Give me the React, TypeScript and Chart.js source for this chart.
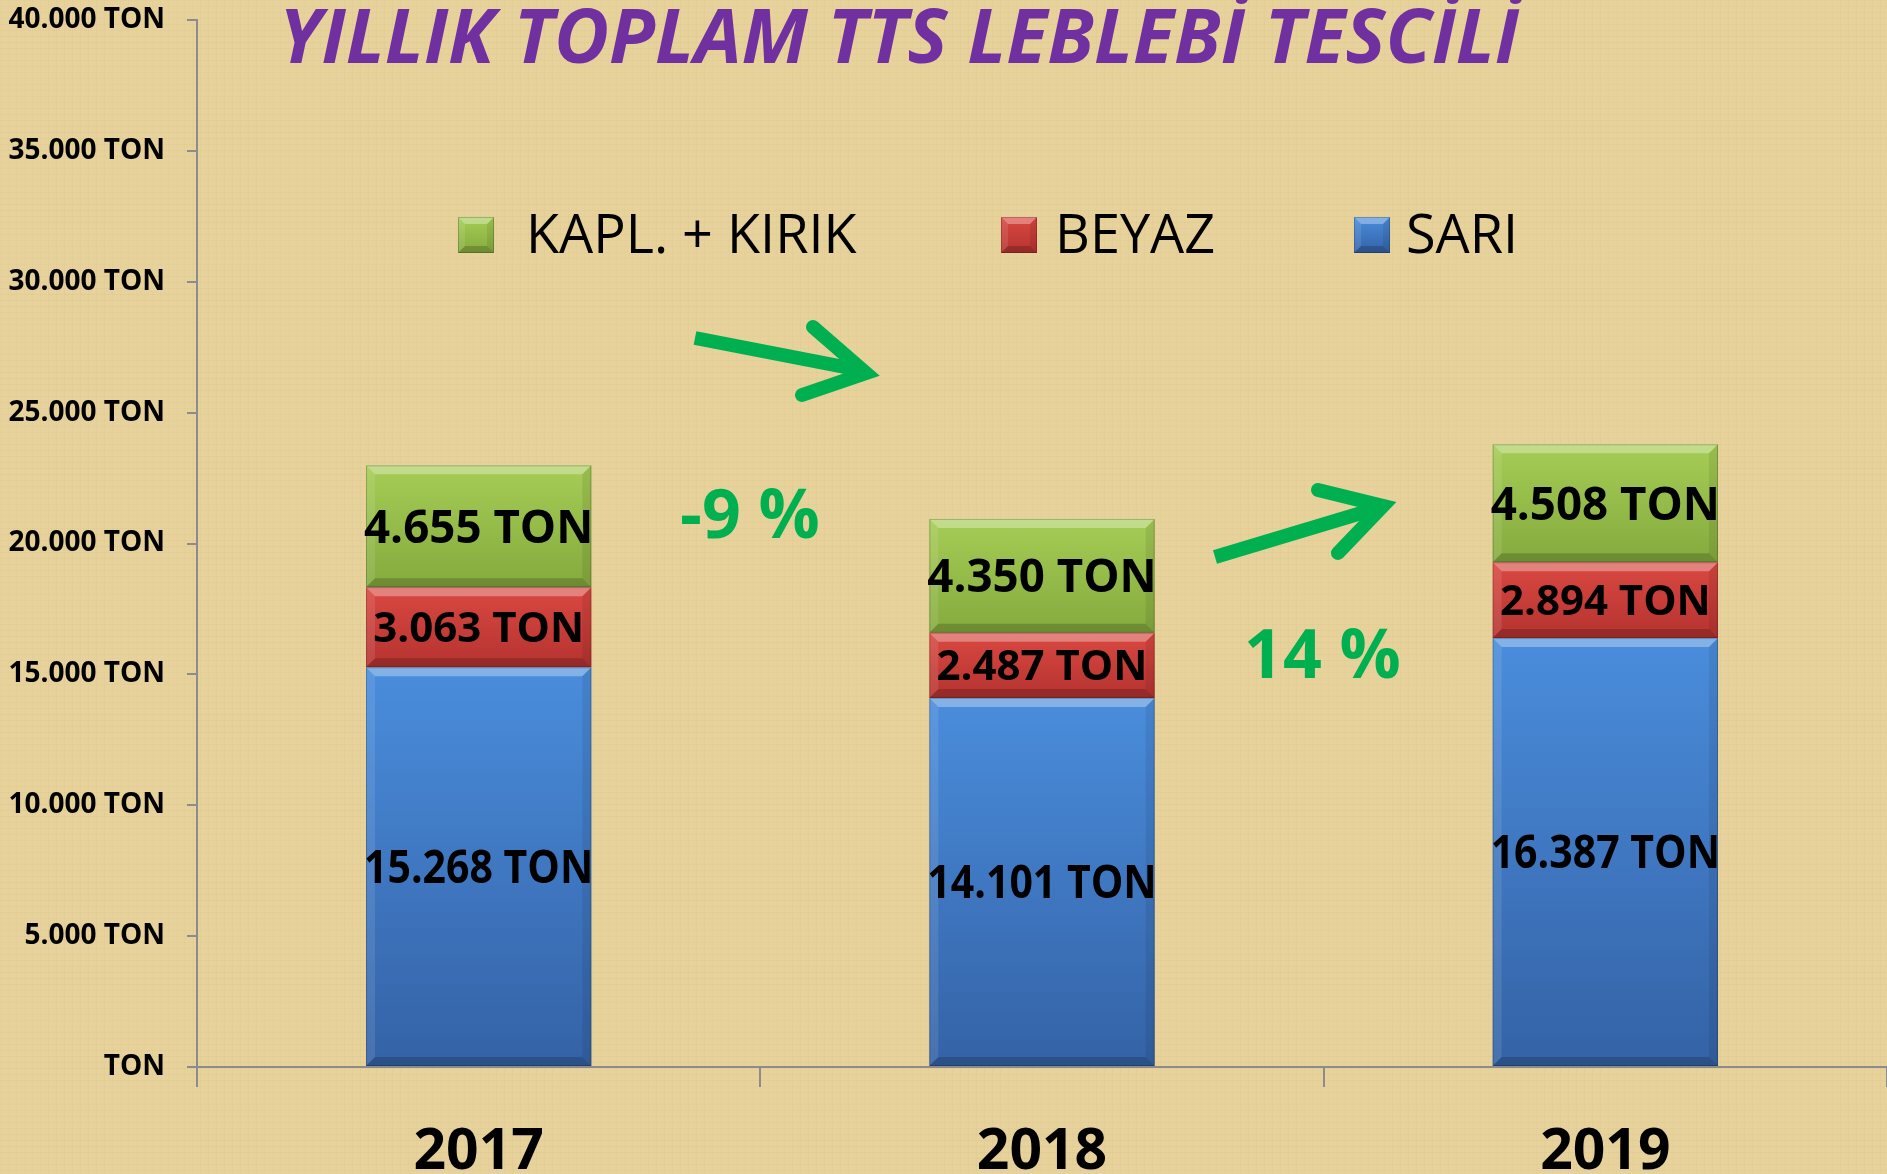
import React, { useEffect, useRef } from "react";
import { Chart, registerables } from "chart.js";

Chart.register(...registerables);

// ---------- data ----------
const years = ["2017", "2018", "2019"];
const sari = [15268, 14101, 16387];
const beyaz = [3063, 2487, 2894];
const kaplKirik = [4655, 4350, 4508];
const seriesNames = ["SARI", "BEYAZ", "KAPL. + KIRIK"];
const yMin = 0;
const yMax = 40000;
const yStep = 5000;
const unit = "TON";
const titleText = "YILLIK TOPLAM TTS LEBLEBİ TESCİLİ";
const changeLabels = ["-9 %", "14 %"];

// ---------- styles ----------
const BG = "#E7D29C";
const AXIS = "#8C8C8C";
const FONT = "'Open Sans', 'DejaVu Sans', sans-serif";
const seriesColors = [
  { top: "#4A8DDC", bottom: "#3462A6", flat: "#3D78C6" },
  { top: "#DA4841", bottom: "#B53330", flat: "#C83C39" },
  { top: "#A5CD55", bottom: "#85AA3E", flat: "#95BE49" },
];
const labelFontSizes = [46, 42, 46];
const GREEN = "#00B050";
const PURPLE = "#7030A0";

function fmt(v: number): string {
  return Math.round(v)
    .toString()
    .replace(/\B(?=(\d{3})+(?!\d))/g, ".");
}

function tonLabel(v: number): string {
  return v === 0 ? unit : fmt(v) + " " + unit;
}

function makeBg(dsIndex: number) {
  return (c: any) => {
    const chart = c.chart;
    const ys = chart.scales && chart.scales.y;
    const col = seriesColors[dsIndex];
    if (c.type !== "data" || !ys) return col.flat;
    const j = c.dataIndex;
    let base = 0;
    for (let k = 0; k < dsIndex; k++) base += chart.data.datasets[k].data[j] as number;
    const v = chart.data.datasets[dsIndex].data[j] as number;
    const y0 = ys.getPixelForValue(base + v);
    const y1 = ys.getPixelForValue(base);
    if (!isFinite(y0) || !isFinite(y1) || y0 === y1) return col.flat;
    const g = chart.ctx.createLinearGradient(0, y0, 0, y1);
    g.addColorStop(0, col.top);
    g.addColorStop(1, col.bottom);
    return g;
  };
}

function poly(ctx: CanvasRenderingContext2D, pts: number[][], fill: string) {
  ctx.beginPath();
  ctx.moveTo(pts[0][0], pts[0][1]);
  for (let i = 1; i < pts.length; i++) ctx.lineTo(pts[i][0], pts[i][1]);
  ctx.closePath();
  ctx.fillStyle = fill;
  ctx.fill();
}

function drawBevel(ctx: CanvasRenderingContext2D, l: number, t: number, r: number, b: number, s: number) {
  ctx.save();
  poly(ctx, [[l, t], [r, t], [r - s, t + s], [l + s, t + s]], "rgba(255,255,255,0.32)");
  poly(ctx, [[l, t], [l + s, t + s], [l + s, b - s], [l, b]], "rgba(255,255,255,0.10)");
  poly(ctx, [[r, t], [r, b], [r - s, b - s], [r - s, t + s]], "rgba(0,0,0,0.08)");
  poly(ctx, [[l, b], [r, b], [r - s, b - s], [l + s, b - s]], "rgba(0,0,0,0.18)");
  ctx.strokeStyle = "rgba(0,0,0,0.20)";
  ctx.lineWidth = 1;
  ctx.strokeRect(l + 0.5, t + 0.5, r - l - 1, b - t - 1);
  ctx.restore();
}

// soft papyrus-like background (solid base with faint woven lines)
const backgroundPlugin = {
  id: "bgFill",
  beforeDraw(chart: any) {
    const ctx = chart.ctx as CanvasRenderingContext2D;
    const W = chart.width;
    const H = chart.height;
    ctx.save();
    ctx.fillStyle = BG;
    ctx.fillRect(0, 0, W, H);
    ctx.lineWidth = 1;
    for (let y = 0; y < H; y += 6) {
      const a = 0.02 + 0.035 * Math.pow(Math.sin(y * 0.037), 2);
      ctx.strokeStyle = `rgba(160,120,50,${a.toFixed(3)})`;
      ctx.beginPath();
      ctx.moveTo(0, y + 0.5);
      ctx.lineTo(W, y + 0.5);
      ctx.stroke();
    }
    for (let x = 0; x < W; x += 8) {
      const a = 0.015 + 0.03 * Math.pow(Math.sin(x * 0.021), 2);
      ctx.strokeStyle = `rgba(160,120,50,${a.toFixed(3)})`;
      ctx.beginPath();
      ctx.moveTo(x + 0.5, 0);
      ctx.lineTo(x + 0.5, H);
      ctx.stroke();
    }
    ctx.restore();
  },
};

const bevelAndLabelsPlugin = {
  id: "bevelLabels",
  afterDatasetsDraw(chart: any) {
    const ctx = chart.ctx as CanvasRenderingContext2D;
    chart.data.datasets.forEach((ds: any, i: number) => {
      const meta = chart.getDatasetMeta(i);
      meta.data.forEach((el: any) => {
        const p = el.getProps(["x", "y", "base", "width"], true);
        const l = p.x - p.width / 2;
        const r = p.x + p.width / 2;
        const t = Math.min(p.y, p.base);
        const b = Math.max(p.y, p.base);
        drawBevel(ctx, l, t, r, b, 9);
      });
    });
    ctx.save();
    ctx.fillStyle = "#000000";
    ctx.textAlign = "center";
    ctx.textBaseline = "alphabetic";
    chart.data.datasets.forEach((ds: any, i: number) => {
      const fs = labelFontSizes[i];
      ctx.font = `bold ${fs}px ${FONT}`;
      const meta = chart.getDatasetMeta(i);
      meta.data.forEach((el: any, j: number) => {
        const p = el.getProps(["x", "y", "base", "width"], true);
        const cy = (p.y + p.base) / 2;
        ctx.fillText(tonLabel(ds.data[j]), p.x, cy + fs * 0.357, p.width + 4);
      });
    });
    ctx.restore();
  },
};

function arrow(ctx: CanvasRenderingContext2D, shaft: number[][], head: number[][]) {
  ctx.save();
  ctx.strokeStyle = GREEN;
  ctx.lineWidth = 14;
  ctx.lineCap = "butt";
  ctx.beginPath();
  ctx.moveTo(shaft[0][0], shaft[0][1]);
  ctx.lineTo(shaft[1][0], shaft[1][1]);
  ctx.stroke();
  ctx.lineCap = "round";
  ctx.lineJoin = "miter";
  ctx.miterLimit = 10;
  ctx.beginPath();
  ctx.moveTo(head[0][0], head[0][1]);
  ctx.lineTo(head[1][0], head[1][1]);
  ctx.lineTo(head[2][0], head[2][1]);
  ctx.stroke();
  ctx.restore();
}

const overlayPlugin = {
  id: "overlay",
  afterDraw(chart: any) {
    const ctx = chart.ctx as CanvasRenderingContext2D;
    // title
    ctx.save();
    ctx.font = `italic bold 75px ${FONT}`;
    ctx.fillStyle = PURPLE;
    ctx.textAlign = "left";
    ctx.textBaseline = "alphabetic";
    const w = ctx.measureText(titleText).width;
    ctx.translate(279, 63);
    ctx.scale(1240 / w, 1);
    ctx.fillText(titleText, 0, 0);
    ctx.restore();

    // legend (reverse order)
    const legendPos = [
      { ds: 2, mx: 458, tx: 526 },
      { ds: 1, mx: 1001, tx: 1055 },
      { ds: 0, mx: 1354, tx: 1406 },
    ];
    ctx.save();
    legendPos.forEach((it) => {
      const col = seriesColors[it.ds];
      const g = ctx.createLinearGradient(0, 217, 0, 253);
      g.addColorStop(0, col.top);
      g.addColorStop(1, col.bottom);
      ctx.fillStyle = g;
      ctx.fillRect(it.mx, 217, 36, 36);
      drawBevel(ctx, it.mx, 217, it.mx + 36, 253, 7);
      ctx.font = `54px ${FONT}`;
      ctx.fillStyle = "#000000";
      ctx.textAlign = "left";
      ctx.textBaseline = "alphabetic";
      ctx.fillText(chart.data.datasets[it.ds].label, it.tx, 253);
    });
    ctx.restore();

    // arrows
    arrow(ctx, [[695, 338], [860, 370]], [[813, 327], [866, 373], [802, 395]]);
    arrow(ctx, [[1215, 557], [1378, 508]], [[1318, 490], [1383, 506], [1338, 553]]);

    // change labels
    ctx.save();
    ctx.font = `bold 68px ${FONT}`;
    ctx.fillStyle = GREEN;
    ctx.textAlign = "left";
    ctx.textBaseline = "alphabetic";
    ctx.fillText(changeLabels[0], 680, 538);
    ctx.fillText(changeLabels[1], 1244, 678);
    ctx.restore();
  },
};

export default function App() {
  const ref = useRef<HTMLCanvasElement | null>(null);

  useEffect(() => {
    if (!ref.current) return;
    const chart = new Chart(ref.current, {
      type: "bar",
      data: {
        labels: years,
        datasets: [
          { label: seriesNames[0], data: sari, backgroundColor: makeBg(0) as any, borderWidth: 0 },
          { label: seriesNames[1], data: beyaz, backgroundColor: makeBg(1) as any, borderWidth: 0 },
          { label: seriesNames[2], data: kaplKirik, backgroundColor: makeBg(2) as any, borderWidth: 0 },
        ],
      },
      options: {
        animation: false,
        responsive: true,
        maintainAspectRatio: false,
        layout: { padding: { top: 20, right: 0, left: 0, bottom: 0 } },
        datasets: { bar: { categoryPercentage: 1, barPercentage: 0.4 } },
        plugins: {
          legend: { display: false },
          tooltip: { enabled: false },
          title: { display: false },
        },
        scales: {
          x: {
            stacked: true,
            afterFit: (s: any) => {
              s.height = 107;
              s.paddingLeft = 0;
              s.paddingRight = 0;
            },
            grid: {
              offset: true,
              drawOnChartArea: false,
              drawTicks: true,
              tickLength: 20,
              color: AXIS,
              lineWidth: 2,
            },
            border: { display: true, color: AXIS, width: 2 },
            ticks: {
              color: "#000000",
              font: { family: FONT, size: 57, weight: "bold" },
              padding: 32,
            },
          },
          y: {
            stacked: true,
            min: yMin,
            max: yMax,
            afterFit: (s: any) => {
              s.width = 197;
              s.paddingTop = 0;
              s.paddingBottom = 0;
            },
            grid: {
              drawOnChartArea: false,
              drawTicks: true,
              tickLength: 10,
              color: AXIS,
              lineWidth: 2,
            },
            border: { display: true, color: AXIS, width: 2 },
            ticks: {
              stepSize: yStep,
              color: "#000000",
              font: { family: FONT, size: 28, weight: "bold" },
              padding: 22,
              callback: (v: any) => tonLabel(Number(v)),
            },
          },
        },
      },
      plugins: [backgroundPlugin, bevelAndLabelsPlugin, overlayPlugin],
    });
    return () => chart.destroy();
  }, []);

  return (
    <div
      style={{
        position: "absolute",
        left: 0,
        top: 0,
        width: 1887,
        height: 1174,
        background: BG,
      }}
    >
      <canvas ref={ref} />
    </div>
  );
}
